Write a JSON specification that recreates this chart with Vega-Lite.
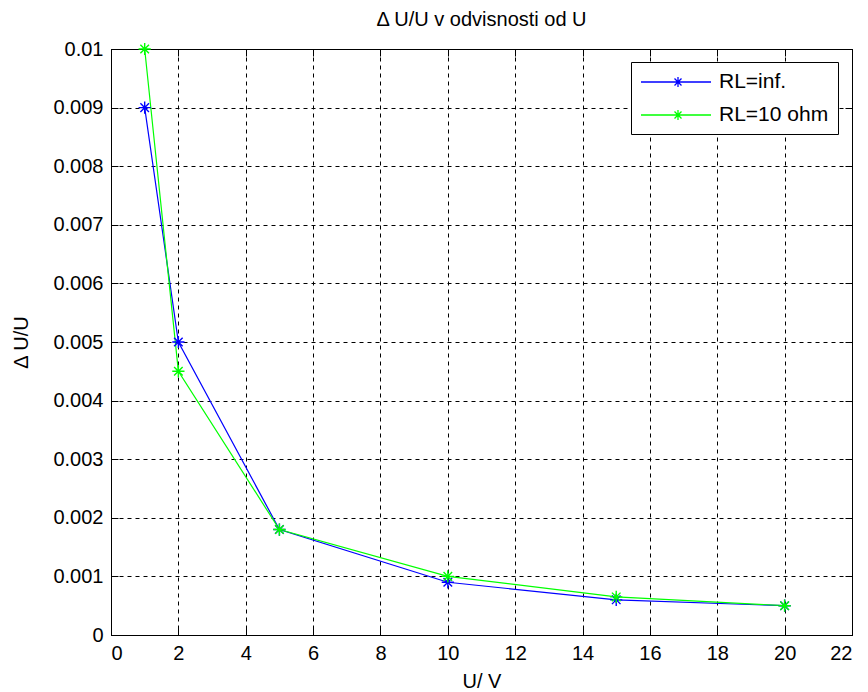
{
  "$schema": "https://vega.github.io/schema/vega-lite/v6.json",
  "width": 741,
  "height": 586,
  "autosize": {"type": "none"},
  "padding": {"left": 111, "top": 49, "right": 16, "bottom": 57},
  "background": "white",
  "title": {"text": "Δ U/U v odvisnosti od U", "fontSize": 20, "fontWeight": "normal", "font": "Liberation Sans", "color": "black", "offset": 9},
  "data": {"values": [
    {"U": 1, "dU": 0.009, "series": "RL=inf."},
    {"U": 2, "dU": 0.005, "series": "RL=inf."},
    {"U": 5, "dU": 0.0018, "series": "RL=inf."},
    {"U": 10, "dU": 0.0009, "series": "RL=inf."},
    {"U": 15, "dU": 0.0006, "series": "RL=inf."},
    {"U": 20, "dU": 0.0005, "series": "RL=inf."},
    {"U": 1, "dU": 0.01, "series": "RL=10 ohm"},
    {"U": 2, "dU": 0.0045, "series": "RL=10 ohm"},
    {"U": 5, "dU": 0.0018, "series": "RL=10 ohm"},
    {"U": 10, "dU": 0.001, "series": "RL=10 ohm"},
    {"U": 15, "dU": 0.00065, "series": "RL=10 ohm"},
    {"U": 20, "dU": 0.0005, "series": "RL=10 ohm"}
  ]},
  "config": {
    "font": "Liberation Sans",
    "view": {"stroke": "black", "strokeWidth": 1},
    "axis": {
      "domainColor": "black", "domainWidth": 1,
      "tickColor": "black", "tickSize": -7, "tickWidth": 1,
      "labelColor": "black", "labelFontSize": 20, "labelFont": "Liberation Sans",
      "titleColor": "black", "titleFontSize": 20, "titleFontWeight": "normal", "titleFont": "Liberation Sans",
      "gridColor": "black", "gridDash": [4, 4], "gridOpacity": 1, "gridWidth": 1
    },
    "legend": {
      "orient": "none", "legendX": 520, "legendY": 13,
      "strokeColor": "black", "fillColor": "white", "padding": 9, "cornerRadius": 0,
      "labelFontSize": 21, "labelColor": "black", "labelFont": "Liberation Sans", "labelOffset": 57,
      "symbolType": "M-1,0L6,0M2.7,-0.5L2.7,0.5M2.35,-0.35L3.05,0.35M2.35,0.35L3.05,-0.35",
      "symbolSize": 400, "symbolStrokeWidth": 1.3, "rowPadding": 12
    }
  },
  "layer": [
    {
      "transform": [{"filter": "datum.series === 'RL=inf.'"}],
      "mark": {"type": "line", "strokeWidth": 1.2},
      "encoding": {
        "x": {"field": "U", "type": "quantitative", "scale": {"domain": [0, 22], "nice": false},
              "axis": {"orient": "bottom", "values": [0,2,4,6,8,10,12,14,16,18,20,22], "grid": true, "title": "U/ V", "labelPadding": 15, "titlePadding": 8}},
        "y": {"field": "dU", "type": "quantitative", "scale": {"domain": [0, 0.01], "nice": false, "zero": false},
              "axis": {"orient": "left", "values": [0,0.001,0.002,0.003,0.004,0.005,0.006,0.007,0.008,0.009,0.01], "format": ".3~f", "grid": true, "title": "Δ U/U", "labelPadding": 15, "titlePadding": 21}},
        "color": {"field": "series", "type": "nominal", "scale": {"domain": ["RL=inf.", "RL=10 ohm"], "range": ["#0000ff", "#00ff00"]}, "legend": {"title": null}}
      }
    },
    {
      "transform": [{"filter": "datum.series === 'RL=10 ohm'"}],
      "mark": {"type": "line", "strokeWidth": 1.2},
      "encoding": {
        "x": {"field": "U", "type": "quantitative", "axis": null},
        "y": {"field": "dU", "type": "quantitative", "axis": null},
        "color": {"field": "series", "type": "nominal", "legend": {"title": null}}
      }
    },
    {
      "mark": {"type": "point", "shape": "M0,-1L0,1M-1,0L1,0M-0.7,-0.7L0.7,0.7M-0.7,0.7L0.7,-0.7", "filled": false, "size": 150, "strokeWidth": 1.4, "opacity": 1},
      "encoding": {
        "x": {"field": "U", "type": "quantitative",
              "axis": {"orient": "top", "values": [0,2,4,6,8,10,12,14,16,18,20,22], "labels": false, "grid": false, "title": null}},
        "y": {"field": "dU", "type": "quantitative",
              "axis": {"orient": "right", "values": [0,0.001,0.002,0.003,0.004,0.005,0.006,0.007,0.008,0.009,0.01], "labels": false, "grid": false, "title": null}},
        "color": {"field": "series", "type": "nominal", "legend": {"title": null}}
      }
    }
  ],
  "resolve": {"axis": {"x": "independent", "y": "independent"}}
}
